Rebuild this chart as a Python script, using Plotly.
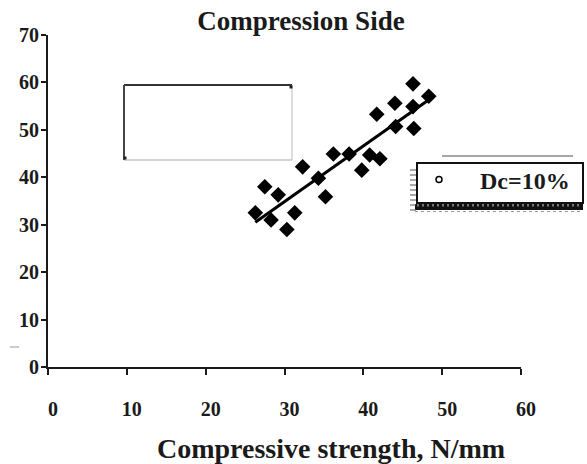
import numpy as np
import plotly.graph_objects as go

# ---- data ----
strength = [26.3, 27.5, 28.3, 29.2, 30.3, 31.3, 32.3, 34.3, 35.2, 36.2, 38.2,
            39.8, 40.8, 42.1, 41.7, 44.0, 44.1, 46.3, 46.3, 46.4, 48.3]
response = [32.5, 38.0, 31.0, 36.3, 29.0, 32.5, 42.2, 39.8, 35.9, 44.9, 44.9,
            41.5, 44.7, 43.9, 53.3, 55.6, 50.7, 59.7, 54.9, 50.3, 57.1]
fit_range = [26.3, 48.8]
x_ticks = [0, 10, 20, 30, 40, 50, 60]
y_ticks = [0, 10, 20, 30, 40, 50, 60, 70]
series_name = "Dc=10%"
title_text = "Compression Side"
x_title = "Compressive strength, N/mm"

W, H = 587, 464
ML, MR, MT, MB = 48, 66, 35, 97
PW, PH = W - ML - MR, H - MT - MB


def px(xp):
    return (xp - ML) / PW


def py(yp):
    return (H - MB - yp) / PH


slope, intercept = np.polyfit(strength, response, 1)
fx = np.array(fit_range)
fy = slope * fx + intercept

FONT = "Liberation Serif, DejaVu Serif, serif"
INK = "#1a1a1a"

fig = go.Figure()
fig.add_trace(go.Scatter(x=strength, y=response, mode="markers",
                         marker=dict(symbol="diamond", size=12, color="black"),
                         showlegend=False))
fig.add_trace(go.Scatter(x=fx, y=fy, mode="lines",
                         line=dict(color="black", width=3), showlegend=False))
fig.add_trace(go.Scatter(x=[None], y=[None], mode="markers", name=series_name,
                         marker=dict(symbol="circle-open", size=6, color="black",
                                     line=dict(width=1.5)),
                         showlegend=True))

shapes = []
# empty box (upper left)
shapes.append(dict(type="line", xref="paper", yref="paper", x0=px(124), x1=px(292),
                   y0=py(85), y1=py(85), line=dict(color="#333", width=2)))
shapes.append(dict(type="line", xref="paper", yref="paper", x0=px(124), x1=px(124),
                   y0=py(85), y1=py(160), line=dict(color="#444", width=2)))
shapes.append(dict(type="line", xref="paper", yref="paper", x0=px(292), x1=px(292),
                   y0=py(85), y1=py(160), line=dict(color="#bbb", width=1)))
shapes.append(dict(type="line", xref="paper", yref="paper", x0=px(124), x1=px(292),
                   y0=py(160), y1=py(160), line=dict(color="#aaa", width=1)))
for cx, cy in [(291, 87), (125, 158)]:
    shapes.append(dict(type="rect", xref="paper", yref="paper", x0=px(cx - 1.5),
                       x1=px(cx + 1.5), y0=py(cy - 1.5), y1=py(cy + 1.5),
                       fillcolor="#222", line=dict(width=0)))

# legend frame with hatched shadow
shapes.append(dict(type="line", xref="paper", yref="paper", x0=px(442), x1=px(573),
                   y0=py(156), y1=py(156), line=dict(color="#888", width=1.5)))
shapes.append(dict(type="rect", xref="paper", yref="paper", x0=px(415), x1=px(583),
                   y0=py(204), y1=py(210), fillcolor="#111", line=dict(width=0)))
for xx in range(418, 583, 5):
    shapes.append(dict(type="line", xref="paper", yref="paper", x0=px(xx), x1=px(xx),
                       y0=py(204), y1=py(206.5), line=dict(color="#ddd", width=1)))
shapes.append(dict(type="line", xref="paper", yref="paper", x0=px(415), x1=px(583),
                   y0=py(211.5), y1=py(211.5),
                   line=dict(color="#999", width=1, dash="dot")))
for yy in range(170, 212, 5):
    shapes.append(dict(type="line", xref="paper", yref="paper", x0=px(410), x1=px(416),
                       y0=py(yy), y1=py(yy), line=dict(color="#555", width=1)))
shapes.append(dict(type="rect", xref="paper", yref="paper", x0=px(417), x1=px(583),
                   y0=py(163), y1=py(203), fillcolor="rgba(0,0,0,0)",
                   line=dict(color="#111", width=2), layer="above"))
# small stray mark on the left
shapes.append(dict(type="line", xref="paper", yref="paper", x0=px(10), x1=px(19),
                   y0=py(347), y1=py(347), line=dict(color="#999", width=1)))

annotations = [dict(text=x_title, xref="paper", yref="paper", x=px(331), y=py(448),
                    xanchor="center", yanchor="middle", showarrow=False,
                    font=dict(family=FONT, size=28, color=INK, weight="bold"))]

fig.update_layout(
    width=W, height=H,
    margin=dict(l=ML, r=MR, t=MT, b=MB, autoexpand=False),
    paper_bgcolor="white", plot_bgcolor="white",
    font=dict(family=FONT, color=INK),
    title=dict(text=title_text, x=301 / W, xanchor="center",
               y=1 - 21 / H, yanchor="middle", yref="container",
               font=dict(family=FONT, size=27, color=INK, weight="bold")),
    xaxis=dict(range=[0, 60], tickvals=x_ticks, ticktext=[str(v) for v in x_ticks],
               showgrid=False, zeroline=False, showline=True, linecolor=INK,
               linewidth=2, ticks="outside", ticklen=6, tickwidth=2, tickcolor=INK,
               tickfont=dict(family=FONT, size=20, color=INK, weight="bold"),
               ticklabelstandoff=17, ticklabelshift=5),
    yaxis=dict(range=[0, 70], tickvals=y_ticks, ticktext=[str(v) for v in y_ticks],
               showgrid=False, zeroline=False, showline=True, linecolor=INK,
               linewidth=2, ticks="outside", ticklen=5, tickwidth=2, tickcolor=INK,
               tickfont=dict(family=FONT, size=20, color=INK, weight="bold"),
               ticklabelstandoff=-2),
    legend=dict(x=px(398), y=py(180), xanchor="left", yanchor="middle",
                bgcolor="rgba(0,0,0,0)", borderwidth=0, itemwidth=72,
                font=dict(family=FONT, size=24, color=INK, weight="bold")),
    shapes=shapes,
    annotations=annotations,
)

fig.write_html("out.html", config={"displayModeBar": False},
               post_script="document.body.style.margin='0';document.body.style.overflow='hidden';")
